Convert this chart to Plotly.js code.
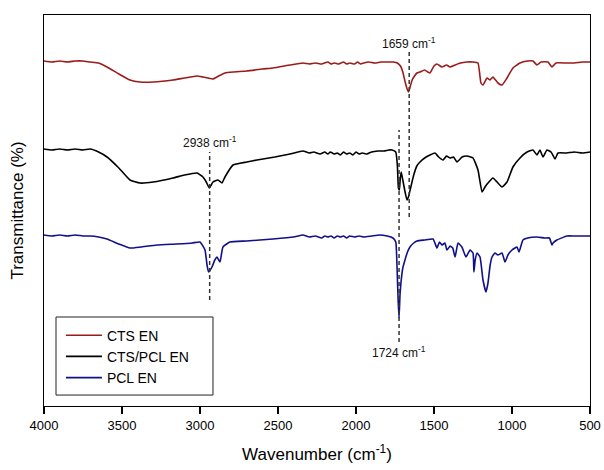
<!DOCTYPE html>
<html>
<head>
<meta charset="utf-8">
<script src="https://cdn.plot.ly/plotly-3.0.1.min.js"></script>
<style>html,body{margin:0;padding:0;background:#fff;}#chart{width:604px;height:470px;}</style>
</head>
<body>
<div id="chart"></div>
<script>
// Series names
const seriesNames = ["CTS EN", "CTS/PCL EN", "PCL EN"];
const seriesColors = ["#9b1b1b", "#000000", "#101088"];

// CTS EN (offset-stacked transmittance, arbitrary units)
const ctsWn = [4000,3950,3900,3850,3800,3750,3705,3650,3596,3520,3449,3385,3300,3173,3100,3019,2981,2949,2917,2880,2840,2788,2700,2600,2532,2423,2340,2300,2260,2220,2180,2160,2140,2110,2080,2060,2040,2010,1990,1970,1950,1920,1880,1840,1800,1760,1735,1715,1700,1685,1670,1663,1655,1640,1625,1609,1590,1560,1540,1526,1500,1481,1449,1420,1397,1365,1330,1290,1250,1218,1199,1186,1160,1141,1122,1090,1064,1032,994,949,900,866,840,814,770,744,718,650,600,550,500];
const ctsT = [345,344,345,344,345,345,344,343,339,332,326,324,324,326,328,330,329,328,327,330,333,334,335,337,338,341,343,342,343,342,344,342,343,342,344,342,343,342,344,342,343,344,343,344,344,344,343,340,334,324,316,314,318,326,330,333,334,336,334,333,340,342,339,341,339,341,343,344,344,343,323,321,328,326,329,323,321,328,338,343,345,345,341,344,344,339,343,343,343,344,344];

// CTS/PCL EN
const blendWn = [4000,3950,3900,3850,3800,3750,3705,3650,3596,3520,3449,3385,3300,3173,3100,3019,2981,2960,2940,2917,2885,2859,2840,2788,2700,2635,2520,2423,2340,2300,2270,2230,2200,2180,2165,2140,2120,2100,2080,2060,2040,2020,2000,1980,1960,1930,1900,1860,1820,1790,1769,1745,1735,1728,1722,1716,1710,1700,1688,1673,1662,1650,1630,1610,1590,1560,1526,1494,1470,1442,1420,1397,1375,1353,1320,1289,1250,1218,1192,1173,1154,1122,1096,1064,1032,994,949,904,866,840,821,801,776,750,724,705,650,600,550,500];
const blendT = [257,256,257,256,257,256,257,254,249,238,226,223,224,228,231,233,229,224,218,224,226,223,229,241,244,246,249,252,255,253,254,252,254,252,254,252,253,251,254,252,253,251,254,252,253,252,254,255,255,256,256,254,241,218,216,228,234,226,216,206,210,218,231,240,244,248,251,253,249,246,250,248,249,244,249,250,248,236,214,219,223,228,224,219,224,239,248,254,256,251,256,249,256,254,247,253,253,254,253,254];

// PCL EN
const pclWn = [4000,3950,3900,3850,3800,3750,3705,3650,3596,3520,3449,3380,3276,3150,3050,3000,2968,2955,2945,2935,2923,2905,2891,2872,2853,2808,2700,2532,2400,2340,2300,2260,2220,2200,2180,2160,2140,2120,2100,2080,2060,2040,2010,1980,1950,1900,1850,1800,1763,1745,1737,1730,1724,1718,1712,1700,1686,1670,1654,1630,1609,1560,1506,1481,1465,1449,1430,1417,1397,1380,1365,1346,1321,1295,1269,1250,1244,1236,1224,1205,1186,1167,1154,1140,1128,1109,1090,1064,1045,1026,1000,968,955,930,900,840,790,760,744,737,712,648,600,500];
const pclT = [171,170,171,170,171,170,170,169,167,162,158,159,161,162,163,164,156,141,134,136,139,146,149,144,159,164,165,167,169,171,169,170,168,170,169,170,168,170,169,170,168,170,169,170,169,170,171,170,168,164,139,106,88,111,123,138,146,154,159,163,165,166,167,158,164,161,163,156,160,158,149,163,159,149,156,153,134,146,153,149,126,114,123,141,149,153,151,153,144,151,156,159,154,166,168,169,168,168,161,163,166,170,170,170];

// Marked peaks (wavenumber) and labels
const peakWn = [2938, 1659, 1724];
const peakLabels = ["2938 cm<sup>-1</sup>", "1659 cm<sup>-1</sup>", "1724 cm<sup>-1</sup>"];
const peakLineTop = [254, 354, 276];
const peakLineBottom = [106, 189, 64];
const peakLabelY = [264, 363, 54];

// Axis ticks
const xTicks = [4000, 3500, 3000, 2500, 2000, 1500, 1000, 500];

const xs = [ctsWn, blendWn, pclWn];
const ys = [ctsT, blendT, pclT];
const traces = seriesNames.map((n, i) => ({
  type: "scatter", mode: "lines", name: n,
  x: xs[i], y: ys[i],
  line: {color: seriesColors[i], width: 1.6, shape: "spline", smoothing: 0.4}
}));

const shapes = peakWn.map((w, i) => ({
  type: "line", xref: "x", yref: "y",
  x0: w, x1: w, y0: peakLineBottom[i], y1: peakLineTop[i],
  line: {color: "#333333", width: 1.5, dash: "4px,3px"}
}));
// legend frame
shapes.push({
  type: "rect", xref: "paper", yref: "paper",
  x0: 0.022, x1: 0.3095, y0: 0.028, y1: 0.2276,
  line: {color: "#222", width: 1}, fillcolor: "rgba(0,0,0,0)"
});
const annotations = peakWn.map((w, i) => ({
  xref: "x", yref: "y", x: w, y: peakLabelY[i],
  text: peakLabels[i], showarrow: false,
  font: {family: "Liberation Sans, Arial, sans-serif", size: 12, color: "#111"}
}));

const layout = {
  width: 604, height: 470,
  margin: {l: 44, r: 14, t: 15, b: 64},
  paper_bgcolor: "#fff", plot_bgcolor: "#fff",
  font: {family: "Liberation Sans, Arial, sans-serif", color: "#000"},
  showlegend: true,
  legend: {
    x: 0.031, y: 0.221, xanchor: "left", yanchor: "top",
    borderwidth: 0, bgcolor: "rgba(0,0,0,0)",
    font: {size: 14, family: "Liberation Sans, Arial, sans-serif"},
    itemwidth: 36,
    tracegroupgap: 0
  },
  xaxis: {
    range: [4000, 500], autorange: false,
    tickvals: xTicks, ticktext: xTicks.map(String),
    ticks: "outside", ticklen: 7, tickwidth: 1.2, tickcolor: "#000",
    showline: true, linecolor: "#000", linewidth: 1.2, mirror: true,
    showgrid: false, zeroline: false,
    tickfont: {size: 13},
    title: {text: "Wavenumber (cm<sup>-1</sup>)", font: {size: 17}, standoff: 16}
  },
  yaxis: {
    range: [0, 391], autorange: false,
    showticklabels: false, ticks: "",
    showline: true, linecolor: "#000", linewidth: 1.2, mirror: true,
    showgrid: false, zeroline: false,
    title: {text: "Transmittance (%)", font: {size: 17}, standoff: 14}
  },
  shapes: shapes,
  annotations: annotations
};

Plotly.newPlot("chart", traces, layout, {displayModeBar: false, staticPlot: true});
</script>
</body>
</html>
